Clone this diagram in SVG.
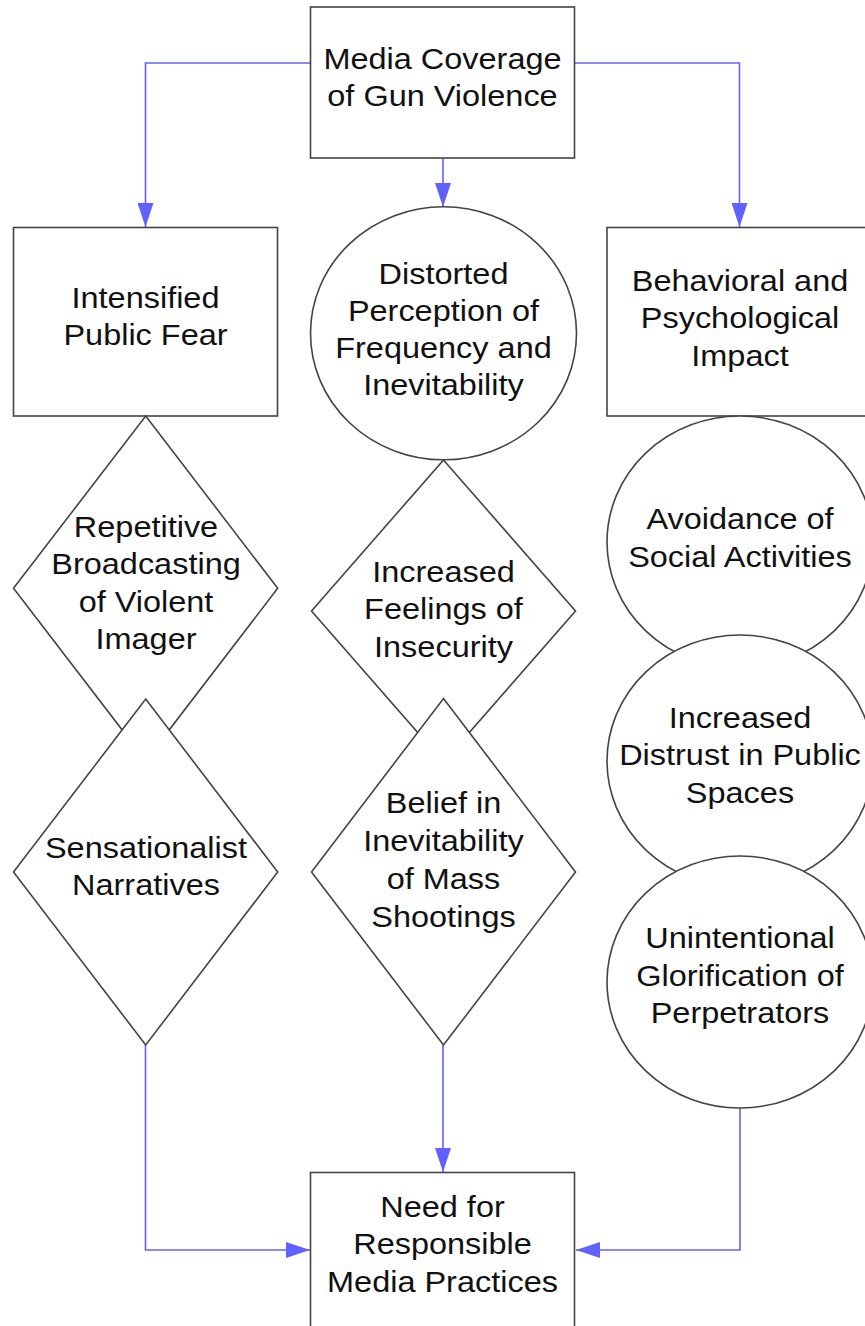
<svg xmlns="http://www.w3.org/2000/svg" width="865" height="1326" viewBox="0 0 865 1326">
<defs>
<style>
.n{fill:#fff;stroke:#444;stroke-width:1.6}
.t{font-family:"Liberation Sans",Arial,sans-serif;font-size:29px;fill:#111;text-anchor:middle}
.c{fill:none;stroke:#6161ff;stroke-width:1.6}
</style>
<marker id="ah" markerUnits="userSpaceOnUse" markerWidth="24" markerHeight="16" refX="24" refY="8" orient="auto">
<path d="M0,0 L24,8 L0,16 z" fill="#6161ff"/>
</marker>
</defs>
<rect width="865" height="1326" fill="#fff"/>
<g id="connectors">
<path class="c" d="M310.5,63 H145.5 V227" marker-end="url(#ah)"/>
<path class="c" d="M443,158 V207" marker-end="url(#ah)"/>
<path class="c" d="M574,63 H739.5 V227" marker-end="url(#ah)"/>
<path class="c" d="M145.5,1045 V1250 H310" marker-end="url(#ah)"/>
<path class="c" d="M443,1045 V1172" marker-end="url(#ah)"/>
<path class="c" d="M740,1108 V1250 H576" marker-end="url(#ah)"/>
</g>
<g id="n-media">
<rect class="n" x="310.5" y="7" width="264" height="151"/>
<text class="t" transform="matrix(1.12 0 0 1 442.5 0)"><tspan x="0" y="69">Media Coverage</tspan><tspan x="0" y="106.5">of Gun Violence</tspan></text>
</g>
<g id="n-fear">
<rect class="n" x="13.5" y="227.5" width="264" height="188.5"/>
<text class="t" transform="matrix(1.12 0 0 1 145.5 0)"><tspan x="0" y="308">Intensified</tspan><tspan x="0" y="345.5">Public Fear</tspan></text>
</g>
<g id="n-perception">
<ellipse class="n" cx="443.5" cy="333.3" rx="133" ry="126.5"/>
<text class="t" transform="matrix(1.12 0 0 1 443.5 0)"><tspan x="0" y="284">Distorted</tspan><tspan x="0" y="321.3">Perception of</tspan><tspan x="0" y="358.3">Frequency and</tspan><tspan x="0" y="395">Inevitability</tspan></text>
</g>
<g id="n-behavioral">
<rect class="n" x="607" y="227.5" width="264" height="188.5"/>
<text class="t" transform="matrix(1.12 0 0 1 740 0)"><tspan x="0" y="291">Behavioral and</tspan><tspan x="0" y="328.5">Psychological</tspan><tspan x="0" y="366.5">Impact</tspan></text>
</g>
<g id="n-repetitive">
<polygon class="n" points="145.7,416 277.7,588.3 145.7,760.6 13.5,588.3"/>
<text class="t" transform="matrix(1.12 0 0 1 146 0)"><tspan x="0" y="536.7">Repetitive</tspan><tspan x="0" y="574">Broadcasting</tspan><tspan x="0" y="612">of Violent</tspan><tspan x="0" y="649.3">Imager</tspan></text>
</g>
<g id="n-insecurity">
<polygon class="n" points="443.5,460 575.5,611 443.5,762 311.5,611"/>
<text class="t" transform="matrix(1.12 0 0 1 443.5 0)"><tspan x="0" y="581.7">Increased</tspan><tspan x="0" y="619.5">Feelings of</tspan><tspan x="0" y="656.7">Insecurity</tspan></text>
</g>
<g id="n-avoidance">
<ellipse class="n" cx="740" cy="542" rx="133" ry="126"/>
<text class="t" transform="matrix(1.12 0 0 1 740 0)"><tspan x="0" y="529.3">Avoidance of</tspan><tspan x="0" y="566.7">Social Activities</tspan></text>
</g>
<g id="n-distrust">
<ellipse class="n" cx="740" cy="761" rx="133" ry="126"/>
<text class="t" transform="matrix(1.12 0 0 1 740 0)"><tspan x="0" y="727.7">Increased</tspan><tspan x="0" y="765.5">Distrust in Public</tspan><tspan x="0" y="802.7">Spaces</tspan></text>
</g>
<g id="n-glorification">
<ellipse class="n" cx="740" cy="982" rx="133" ry="126"/>
<text class="t" transform="matrix(1.12 0 0 1 740 0)"><tspan x="0" y="948.3">Unintentional</tspan><tspan x="0" y="986.5">Glorification of</tspan><tspan x="0" y="1023.3">Perpetrators</tspan></text>
</g>
<g id="n-sensationalist">
<polygon class="n" points="145.7,699 277.7,872 145.7,1045 13.5,872"/>
<text class="t" transform="matrix(1.12 0 0 1 146 0)"><tspan x="0" y="858.5">Sensationalist</tspan><tspan x="0" y="895.5">Narratives</tspan></text>
</g>
<g id="n-belief">
<polygon class="n" points="443.5,698.5 575.5,872 443.5,1045 311.5,872"/>
<text class="t" transform="matrix(1.12 0 0 1 443.5 0)"><tspan x="0" y="813.5">Belief in</tspan><tspan x="0" y="851.5">Inevitability</tspan><tspan x="0" y="889.5">of Mass</tspan><tspan x="0" y="927.5">Shootings</tspan></text>
</g>
<g id="n-need">
<rect class="n" x="310.5" y="1172.5" width="264" height="170"/>
<text class="t" transform="matrix(1.12 0 0 1 442.5 0)"><tspan x="0" y="1216.7">Need for</tspan><tspan x="0" y="1254.5">Responsible</tspan><tspan x="0" y="1291.7">Media Practices</tspan></text>
</g>
</svg>
